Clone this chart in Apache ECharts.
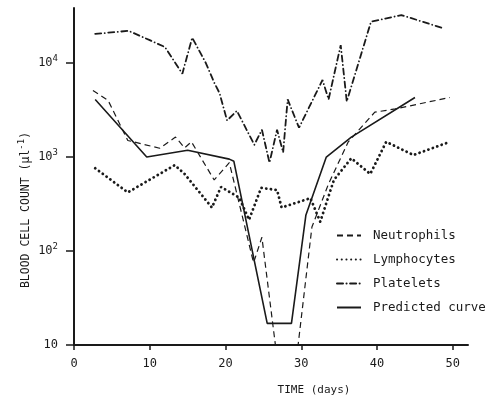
<!DOCTYPE html>
<html>
<head>
<meta charset="utf-8">
<script src="https://cdn.jsdelivr.net/npm/echarts@6/dist/echarts.min.js"></script>
<style>
  html, body { margin: 0; padding: 0; background: #fff; }
  #chart { width: 488px; height: 397px; }
</style>
</head>
<body>
<div id="chart"></div>
<script>
// (days / cells per ul)
var neutroDays = [2.5, 4.5, 7.1, 11.3, 13.4, 14.6, 15.5, 18.5, 20.5, 23.7, 24.8, 27.2, 29, 31.4, 33.6, 36.2, 39.7, 42.4, 49.6];
var neutroCounts = [5100, 4000, 1500, 1240, 1630, 1250, 1450, 570, 870, 75, 140, 4, 4, 180, 520, 1450, 3000, 3250, 4300];

var lymphoDays = [2.8, 7.1, 13.3, 14.6, 18.2, 19.4, 21.8, 23.1, 24.7, 26.8, 27.4, 31.2, 32.5, 34.3, 36.6, 39.1, 41.2, 44.8, 49.6];
var lymphoCounts = [760, 420, 820, 660, 290, 480, 370, 215, 470, 445, 290, 365, 205, 570, 970, 660, 1450, 1050, 1450];

var plateDays = [2.8, 7.2, 10, 12, 14.3, 15.6, 17.4, 18.5, 19.2, 20.2, 21.5, 23.8, 24.8, 25.8, 26.8, 27.6, 28.2, 29.7, 32.8, 33.6, 35.2, 36, 39.2, 43.2, 48.7];
var plateCounts = [20400, 22000, 17500, 14800, 7700, 18600, 10000, 6200, 4800, 2450, 3100, 1350, 1950, 870, 1950, 1120, 4100, 2050, 6600, 4100, 15500, 3900, 27500, 32400, 23500];

var predDays = [2.8, 9.6, 15, 20.5, 21.1, 25.5, 28.7, 30.6, 33.3, 36.6, 45];
var predCounts = [4100, 1000, 1180, 950, 900, 17, 17, 240, 1000, 1630, 4300];

var xTicks = [0, 10, 20, 30, 40, 50];
var yTicks = [10, 100, 1000, 10000];

var ink = "#1a1a1a";
var mono = "DejaVu Sans Mono";

function pairs(xs, ys) {
  return xs.map(function (x, i) { return [x, ys[i]]; });
}

var chart = echarts.init(document.getElementById("chart"));
chart.setOption({
  animation: false,
  grid: { left: 74, right: 20, top: 8, bottom: 52 },
  legend: {
    orient: "vertical",
    left: 331,
    top: 224,
    itemWidth: 24,
    itemHeight: 10,
    itemGap: 11,
    itemStyle: { opacity: 0 },
    textStyle: { color: ink, fontFamily: mono, fontSize: 12.5, padding: [0, 0, 0, 7] },
    data: ["Neutrophils", "Lymphocytes", "Platelets", "Predicted curve"]
  },
  xAxis: {
    type: "value",
    min: 0,
    max: 52,
    splitLine: { show: false },
    axisLine: { lineStyle: { color: ink, width: 2 } },
    axisTick: { customValues: xTicks, length: 5, lineStyle: { color: ink, width: 1.5 } },
    axisLabel: { customValues: xTicks, color: ink, fontFamily: mono, fontSize: 12, margin: 13 }
  },
  yAxis: {
    type: "log",
    logBase: 10,
    min: 10,
    max: 38500,
    splitLine: { show: false },
    axisLine: { lineStyle: { color: ink, width: 2 } },
    axisTick: { customValues: yTicks, length: 8, lineStyle: { color: ink, width: 1.5 } },
    axisLabel: {
      customValues: yTicks,
      color: ink,
      fontFamily: mono,
      fontSize: 12,
      margin: 16,
      formatter: function (v) {
        var e = Math.round(Math.log10(v));
        if (e === 1) return "{b|10}";
        return "{b|10}{s|" + e + "}";
      },
      rich: {
        b: { fontFamily: mono, fontSize: 12, color: ink },
        s: { fontFamily: mono, fontSize: 9, color: ink, verticalAlign: "top", padding: [0, 0, 8, 0] }
      }
    }
  },
  graphic: [
    {
      type: "text",
      x: 26,
      y: 210,
      rotation: Math.PI / 2,
      style: {
        text: "BLOOD CELL COUNT (μl{s|-1})",
        fontFamily: mono,
        fontSize: 11.5,
        fill: ink,
        align: "center",
        verticalAlign: "middle",
        rich: { s: { fontFamily: mono, fontSize: 9, fill: ink, verticalAlign: "top", padding: [0, 0, 8, 0] } }
      }
    },
    {
      type: "text",
      x: 314,
      y: 390,
      style: {
        text: "TIME (days)",
        fontFamily: mono,
        fontSize: 11,
        fill: ink,
        align: "center",
        verticalAlign: "middle"
      }
    }
  ],
  series: [
    {
      name: "Neutrophils",
      type: "line",
      symbol: "none",
      clip: true,
      data: pairs(neutroDays, neutroCounts),
      itemStyle: { color: ink },
      lineStyle: { color: ink, width: 1.2, type: [6, 4] }
    },
    {
      name: "Lymphocytes",
      type: "line",
      symbol: "none",
      clip: true,
      data: pairs(lymphoDays, lymphoCounts),
      itemStyle: { color: ink },
      lineStyle: { color: ink, width: 2.8, type: [0.1, 4.6], cap: "round" }
    },
    {
      name: "Platelets",
      type: "line",
      symbol: "none",
      clip: true,
      data: pairs(plateDays, plateCounts),
      itemStyle: { color: ink },
      lineStyle: { color: ink, width: 1.8, type: [6, 3.5, 0.1, 3.5], cap: "round" }
    },
    {
      name: "Predicted curve",
      type: "line",
      symbol: "none",
      clip: true,
      data: pairs(predDays, predCounts),
      itemStyle: { color: ink },
      lineStyle: { color: ink, width: 1.6 }
    }
  ]
});
</script>
</body>
</html>
